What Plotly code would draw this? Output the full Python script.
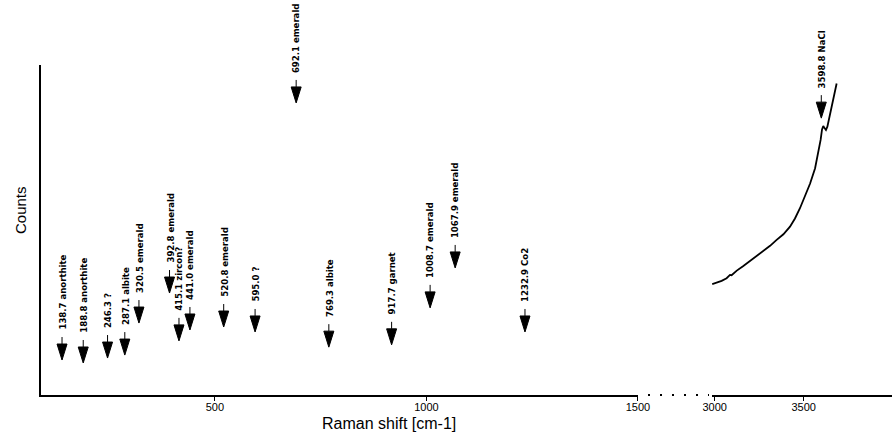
import plotly.graph_objects as go

# ---- data ----
peak_pos = [138.7, 188.8, 246.3, 287.1, 320.5, 392.8, 415.1, 441.0, 520.8,
            595.0, 692.1, 769.3, 917.7, 1008.7, 1067.9, 1232.9, 3598.8]
peak_label = ["138.7 anorthite", "188.8 anorthite", "246.3 ?", "287.1 albite",
              "320.5 emerald", "392.8 emerald", "415.1 zircon?", "441.0 emerald",
              "520.8 emerald", "595.0 ?", "692.1 emerald", "769.3 albite",
              "917.7 garnet", "1008.7 emerald", "1067.9 emerald", "1232.9 Co2",
              "3598.8 NaCl"]
peak_level = [10.6, 9.7, 11.2, 12.1, 21.8, 30.9, 16.4, 19.7, 20.6,
              19.1, 88.5, 14.5, 15.2, 26.4, 38.5, 19.1, 83.9]

shift_hi = [2986, 3011, 3039, 3067, 3086, 3095, 3124, 3161, 3198, 3236, 3273,
            3311, 3348, 3386, 3423, 3451, 3479, 3507, 3536, 3564, 3582, 3595,
            3603, 3610, 3618, 3625, 3633, 3648, 3667, 3685]
counts_hi = [33.6, 34.0, 34.6, 35.4, 36.4, 36.3, 37.7, 39.1, 40.6, 42.1, 43.7,
             45.2, 47.0, 48.7, 51.0, 53.5, 56.6, 60.1, 64.1, 68.7, 73.2, 77.3,
             80.5, 81.5, 80.8, 80.3, 81.3, 84.8, 89.4, 94.4]

ticks_lo = [500, 1000, 1500]
ticks_hi = [3000, 3500]
range_lo = [89, 1500]
range_hi = [2985, 3996]
break_at = 1500

# ---- figure ----
W, H = 892, 433
ML, MR, MT, MB = 41, 0, 65, 38
plot_w = W - ML - MR
plot_h = H - MT - MB
dom_lo = [0, 0.7015]
dom_hi = [0.7885, 1.0]

fig = go.Figure()
lo_idx = [i for i, p in enumerate(peak_pos) if p <= break_at]
fig.add_trace(go.Scatter(x=[peak_pos[i] for i in lo_idx], y=[peak_level[i] for i in lo_idx],
                         mode="markers", marker=dict(opacity=0), hoverinfo="skip",
                         showlegend=False, xaxis="x", yaxis="y"))
fig.add_trace(go.Scatter(x=shift_hi, y=counts_hi, mode="lines",
                         line=dict(color="black", width=1.8),
                         showlegend=False, xaxis="x2", yaxis="y"))

lab_font = dict(family="Liberation Sans Narrow, Arial Narrow, DejaVu Sans Condensed, sans-serif",
                size=9.5, color="black", weight="bold")
shapes, annos = [], []
for p, lab, lev in zip(peak_pos, peak_label, peak_level):
    xr = "x" if p <= break_at else "x2"
    shapes.append(dict(type="path", xref=xr, yref="y", xsizemode="pixel", ysizemode="pixel",
                       xanchor=p, yanchor=lev,
                       path="M-5,16 L5,16 L0,0 Z M0,16 L0,23",
                       fillcolor="black", line=dict(color="black", width=1)))
    annos.append(dict(x=p, y=lev, xref=xr, yref="y", text=lab, textangle=-90,
                      showarrow=False, xanchor="center", yanchor="bottom",
                      yshift=28, font=lab_font))

# dotted axis break
x_a = (648 - ML) / plot_w
x_b = (709 - ML) / plot_w
shapes.append(dict(type="line", xref="paper", yref="paper", x0=x_a, x1=x_b, y0=0, y1=0,
                   line=dict(color="black", width=2, dash="2px,10px")))

axis_font = dict(family="Liberation Sans, Arial, sans-serif", size=16, color="black")
annos.append(dict(x=(389 - ML) / plot_w, y=-(423 - (H - MB)) / plot_h,
                  xref="paper", yref="paper", text="Raman shift [cm-1]",
                  showarrow=False, xanchor="center", yanchor="middle", font=axis_font))
annos.append(dict(x=-(41 - 20) / plot_w, y=((H - MB) - 210) / plot_h,
                  xref="paper", yref="paper", text="Counts", textangle=-90,
                  showarrow=False, xanchor="center", yanchor="middle",
                  font=dict(family="Liberation Sans, Arial, sans-serif", size=15, color="black")))

tick_font = dict(family="Liberation Sans, Arial, sans-serif", size=11, color="black")
common_x = dict(showgrid=False, zeroline=False, showline=True, linecolor="black", linewidth=2,
                ticks="outside", ticklen=4, tickwidth=1, tickcolor="black",
                tickfont=tick_font, ticklabelstandoff=-3, fixedrange=True, automargin=False)
fig.update_layout(
    width=W, height=H, autosize=False,
    margin=dict(l=ML, r=MR, t=MT, b=MB, autoexpand=False),
    paper_bgcolor="white", plot_bgcolor="white",
    xaxis=dict(domain=dom_lo, range=range_lo, tickvals=ticks_lo, anchor="y", **common_x),
    xaxis2=dict(domain=dom_hi, range=range_hi, tickvals=ticks_hi, anchor="y", **common_x),
    yaxis=dict(range=[0, 100], showgrid=False, zeroline=False, showline=True,
               linecolor="black", linewidth=2, showticklabels=False, ticks="",
               anchor="x", fixedrange=True, automargin=False),
    shapes=shapes, annotations=annos, showlegend=False,
)

fig.write_html(
    "out.html",
    config={"displayModeBar": False, "responsive": False},
    post_script="document.body.style.margin='0';document.body.style.overflow='hidden';",
)
